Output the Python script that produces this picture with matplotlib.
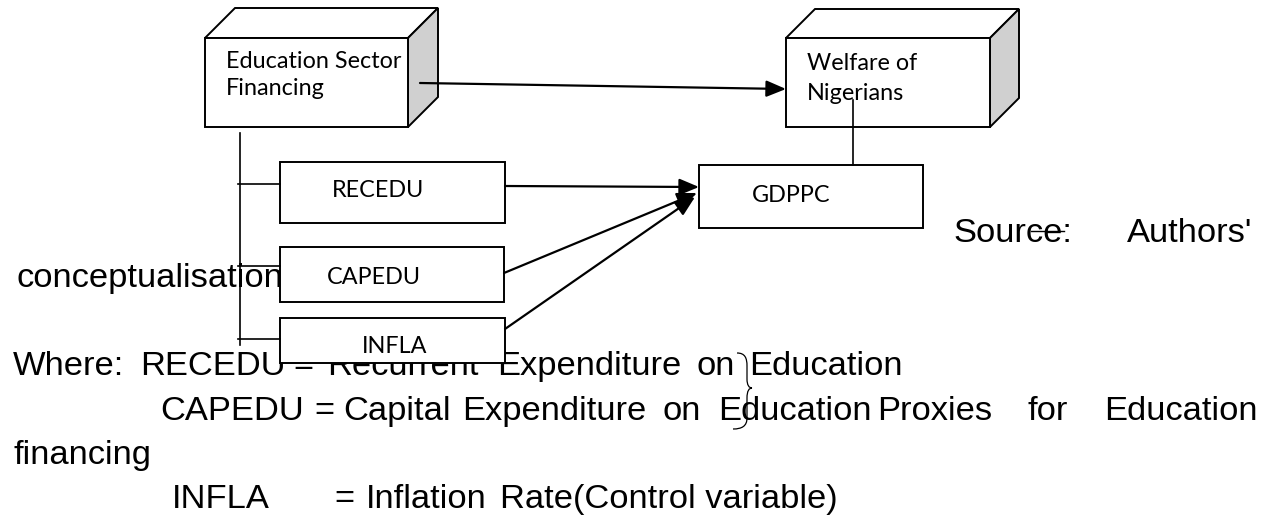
import matplotlib
matplotlib.use("Agg")
from matplotlib import pyplot as plt
from matplotlib.patches import Rectangle, Polygon, PathPatch
from matplotlib.path import Path

# diagram labels
top_labels = [["Education Sector", "Financing"], ["Welfare of", "Nigerians"]]
var_labels = ["RECEDU", "CAPEDU", "INFLA"]
out_label = "GDPPC"

# body text, as (word, x) per line
source_line = [("Source:", 953), ("Authors'", 1127)]
concept_line = [("conceptualisation", 17)]
where_line = [("Where:", 13), ("RECEDU", 140), ("=", 293), ("Recurrent", 327),
              ("Expenditure", 497), ("on", 697), ("Education", 749)]
capedu_line = [("CAPEDU", 160), ("=", 314), ("Capital", 343), ("Expenditure", 462),
               ("on", 663), ("Education", 718), ("Proxies", 877), ("for", 1027),
               ("Education", 1104)]
fin_line = [("financing", 13)]
infla_line = [("INFLA", 172), ("=", 334), ("Inflation", 366), ("Rate(Control variable)", 500)]

text_lines = [(source_line, 242), (concept_line, 287), (where_line, 375),
              (capedu_line, 420), (fin_line, 464), (infla_line, 508)]

fig = plt.figure(figsize=(12.7, 5.17), dpi=100)
ax = fig.add_axes([0, 0, 1, 1])
ax.set_xlim(0, 1270)
ax.set_ylim(517, 0)
ax.axis('off')

body_font = dict(family='Liberation Sans', fontsize=24.8, color='black',
                 va='baseline', ha='left', zorder=1)
box_font = dict(family='Lato', fontsize=16.8, color='black',
                va='baseline', ha='left', zorder=5)

for words, y in text_lines:
    for w, x in words:
        ax.text(x, y, w, **body_font)

# stray stroke over "Source"
ax.plot([1031, 1064], [231, 231], color='black', lw=1.0, zorder=3)

# brace between Where lines
brace = Path([(737, 353), (745, 353), (747, 358), (747, 366),
              (747, 379),
              (747, 385), (749, 388), (752, 388),
              (749, 388), (747, 391), (747, 398),
              (747, 418),
              (747, 426), (742, 429), (733, 429)],
             [Path.MOVETO, Path.CURVE4, Path.CURVE4, Path.CURVE4,
              Path.LINETO,
              Path.CURVE4, Path.CURVE4, Path.CURVE4,
              Path.CURVE4, Path.CURVE4, Path.CURVE4,
              Path.LINETO,
              Path.CURVE4, Path.CURVE4, Path.CURVE4])
ax.add_patch(PathPatch(brace, facecolor='none', edgecolor='black', lw=0.9, zorder=4))


def cube(x0, y0, x1, y1, d):
    ax.add_patch(Polygon([(x0, y0), (x0 + d, y0 - d), (x1 + d, y0 - d), (x1, y0)],
                         closed=True, facecolor='white', edgecolor='black', lw=1.4, zorder=2))
    ax.add_patch(Polygon([(x1, y0), (x1 + d, y0 - d), (x1 + d, y1 - d), (x1, y1)],
                         closed=True, facecolor='#d0d0d0', edgecolor='black', lw=1.4, zorder=2))
    ax.add_patch(Rectangle((x0, y0), x1 - x0, y1 - y0, facecolor='white',
                           edgecolor='black', lw=1.4, zorder=2))


cube(205, 38, 408, 127, 30)
cube(786, 38, 990, 127, 29)
for (l1, l2), (tx, y1, y2) in zip(top_labels, [(226, 68, 95), (807, 70, 100)]):
    ax.text(tx, y1, l1, **box_font)
    ax.text(tx, y2, l2, **box_font)

var_boxes = [(280, 162, 505, 223), (280, 247, 504, 302), (280, 318, 505, 363)]
var_text = [(332, 197), (327, 284), (362, 353)]
for (x0, y0, x1, y1), (tx, ty), lab in zip(var_boxes, var_text, var_labels):
    ax.add_patch(Rectangle((x0, y0), x1 - x0, y1 - y0, facecolor='white',
                           edgecolor='black', lw=1.4, zorder=2))
    ax.text(tx, ty, lab, **box_font)

ax.add_patch(Rectangle((699, 165), 923 - 699, 228 - 165, facecolor='white',
                       edgecolor='black', lw=1.4, zorder=2))
ax.text(752, 202, out_label, **box_font)

# connector lines
thin = dict(color='black', lw=1.2, zorder=3)
ax.plot([240, 240], [133, 345], **thin)
for y in [184, 266, 339]:
    ax.plot([238, 280], [y, y], **thin)
ax.plot([853, 853], [100, 165], **thin)

arrow = dict(arrowstyle='-|>,head_length=1.2,head_width=0.5', mutation_scale=10,
             color='black', lw=1.6, shrinkA=0, shrinkB=0)
arrows = [((420, 83), (786, 89)), ((505, 186), (699, 187)),
          ((504, 273), (697, 193)), ((505, 329), (695, 197))]
for start, tip in arrows:
    ax.annotate('', xy=tip, xytext=start, arrowprops=arrow, zorder=4)

fig.savefig('out.png', dpi=100)
